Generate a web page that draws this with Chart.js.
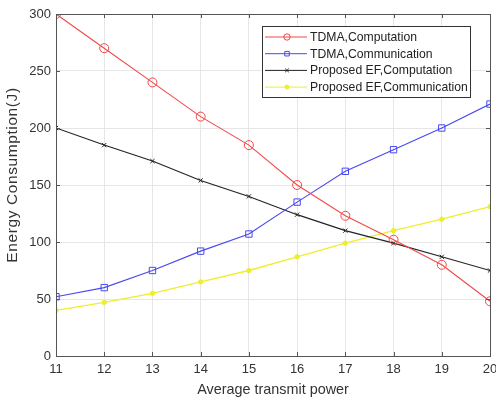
<!DOCTYPE html>
<html><head><meta charset="utf-8">
<script src="https://cdn.jsdelivr.net/npm/chart.js@4/dist/chart.umd.min.js"></script>
<style>html,body{margin:0;padding:0;background:#fff}#wrap{width:496px;height:399px}</style>
</head><body><div id="wrap"><canvas id="c" width="496" height="399"></canvas></div>
<script>
const xValues = [11,12,13,14,15,16,17,18,19,20];
const tdmaComputation = [300,270,240,210,185,150,123,102,80,48];
const tdmaCommunication = [52,60,75,92,107,135,162,181,200,221];
const efComputation = [200,185,171,154,140,124,110,99,87,75];
const efCommunication = [40,47,55,65,75,87,99,110,120,131];
const seriesLabels = ['TDMA,Computation','TDMA,Communication','Proposed EF,Computation','Proposed EF,Communication'];
const yTicks = [0,50,100,150,200,250,300];
const yTitle = 'Energy Consumption(J)';
const xTitle = 'Average transmit power';

const pts = arr => arr.map((v,i)=>({x:xValues[i],y:v}));
const FONT = '"Liberation Sans", Arial, sans-serif';

const datasets = [
 {label:seriesLabels[0],data:pts(tdmaComputation),borderColor:'#f24848',backgroundColor:'rgba(0,0,0,0)',pointStyle:'circle',pointRadius:4.5,pointBorderColor:'#f24848',pointBackgroundColor:'rgba(0,0,0,0)',borderWidth:1.1,pointBorderWidth:1},
 {label:seriesLabels[1],data:pts(tdmaCommunication),borderColor:'#4848f2',backgroundColor:'rgba(0,0,0,0)',pointStyle:'rect',pointRadius:4.5,pointBorderColor:'#4848f2',pointBackgroundColor:'rgba(0,0,0,0)',borderWidth:1.1,pointBorderWidth:1},
 {label:seriesLabels[2],data:pts(efComputation),borderColor:'#222',backgroundColor:'rgba(0,0,0,0)',pointStyle:'crossRot',pointRadius:3,pointBorderColor:'#222',pointBackgroundColor:'rgba(0,0,0,0)',borderWidth:1.1,pointBorderWidth:1},
 {label:seriesLabels[3],data:pts(efCommunication),borderColor:'#eeee2a',backgroundColor:'#eeee2a',pointStyle:'circle',pointRadius:2.2,pointBorderColor:'#eeee2a',pointBackgroundColor:'#eeee2a',borderWidth:1.3,pointBorderWidth:1}
];

const framePlugin = {
 id:'frame',
 afterDraw(chart){
  const ctx=chart.ctx, a=chart.chartArea, xs=chart.scales.x, ys=chart.scales.y;
  ctx.save();
  ctx.strokeStyle='#555'; ctx.lineWidth=1;
  ctx.strokeRect(Math.round(a.left)+0.5,Math.round(a.top)+0.5,Math.round(a.right-a.left),Math.round(a.bottom-a.top));
  ctx.beginPath();
  xValues.forEach(v=>{const p=Math.round(xs.getPixelForValue(v))+0.5;ctx.moveTo(p,a.bottom);ctx.lineTo(p,a.bottom-4);ctx.moveTo(p,a.top);ctx.lineTo(p,a.top+4);});
  yTicks.forEach(v=>{const p=Math.round(ys.getPixelForValue(v))+0.5;ctx.moveTo(a.left,p);ctx.lineTo(a.left+4,p);ctx.moveTo(a.right,p);ctx.lineTo(a.right-4,p);});
  ctx.stroke();
  // y title
  ctx.save();
  ctx.translate(13,175); ctx.rotate(-Math.PI/2);
  ctx.font='15.5px '+FONT; ctx.fillStyle='#333'; ctx.textAlign='center'; ctx.textBaseline='middle';
  try{ctx.letterSpacing='0.6px';}catch(e){}
  ctx.fillText(yTitle,0,0);
  ctx.restore();
  // legend
  const lx=262, ly=26, lw=208, lh=71;
  ctx.fillStyle='#fff'; ctx.fillRect(lx,ly,lw,lh);
  ctx.strokeStyle='#333'; ctx.strokeRect(lx+0.5,ly+0.5,lw,lh);
  ctx.font='12.2px '+FONT; ctx.textBaseline='middle'; ctx.textAlign='left';
  chart.data.datasets.forEach((ds,i)=>{
   const y=ly+11+i*16.7;
   ctx.strokeStyle=ds.borderColor; ctx.lineWidth=1;
   ctx.beginPath(); ctx.moveTo(lx+3,y); ctx.lineTo(lx+45,y); ctx.stroke();
   ctx.fillStyle=ds.pointBackgroundColor;
   ctx.strokeStyle=ds.pointBorderColor;
   const r = ds.pointStyle==='crossRot'?2.5:(i===3?2:3.2);
   Chart.helpers.drawPoint(ctx,{pointStyle:ds.pointStyle,radius:r,borderWidth:1,rotation:0},lx+25,y);
   ctx.fillStyle='#222';
   ctx.fillText(ds.label,lx+48,y+0.5);
  });
  ctx.restore();
 }
};

new Chart(document.getElementById('c'),{
 type:'line',
 data:{datasets},
 options:{
  responsive:false,animation:false,devicePixelRatio:1,
  layout:{padding:{top:14,right:6,left:0,bottom:0}},
  plugins:{legend:{display:false},tooltip:{enabled:false}},
  elements:{line:{tension:0}},
  scales:{
   x:{type:'linear',min:11,max:20,
      afterFit(s){s.height=43;s.paddingRight=0;s.paddingLeft=0;},
      afterBuildTicks(s){s.ticks=xValues.map(v=>({value:v}));},
      grid:{color:'#e6e6e6',drawTicks:false},border:{display:false},
      ticks:{color:'#333',font:{size:13,family:FONT},padding:6,maxRotation:0},
      title:{display:true,text:xTitle,color:'#333',font:{size:14.4,family:FONT},padding:{top:1,bottom:0}}},
   y:{type:'linear',min:0,max:300,
      afterFit(s){s.width=56;s.paddingTop=0;s.paddingBottom=0;},
      afterBuildTicks(s){s.ticks=yTicks.map(v=>({value:v}));},
      grid:{color:'#e6e6e6',drawTicks:false},border:{display:false},
      ticks:{color:'#333',font:{size:13,family:FONT},padding:5},
      title:{display:false}}
  }
 },
 plugins:[framePlugin]
});
</script></body></html>
